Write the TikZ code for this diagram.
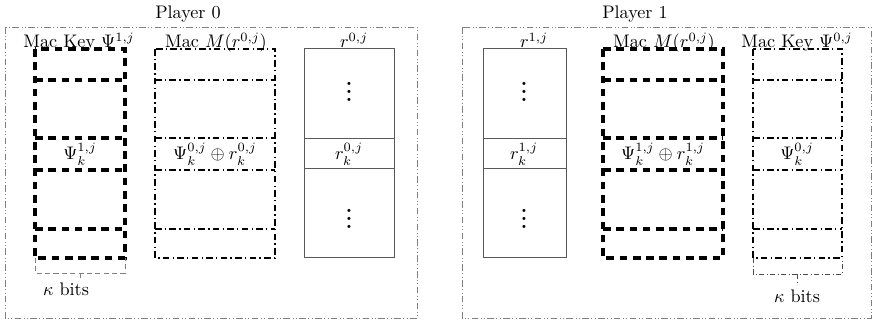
\documentclass[tikz,border=0pt]{standalone}
\newcommand{\myvdots}{\vbox{\baselineskip=4pt\lineskiplimit=0pt\lineskip=0pt\hbox{\bfseries .}\hbox{\bfseries .}\hbox{\bfseries .}}}
\begin{document}
\begin{tikzpicture}[x=0.55pt,y=-0.55pt,
  outer/.style={draw=gray, line width=0.45pt, dash pattern=on 3.6pt off 1.4pt on 0.45pt off 1.4pt on 0.45pt off 1.4pt},
  thickd/.style={draw=black, line width=1.7pt, dash pattern=on 4.2pt off 3.1pt},
  dd/.style={draw=black, line width=0.75pt, dash pattern=on 3.6pt off 1.8pt on 0.75pt off 1.8pt},
  plainbox/.style={draw=black!65, line width=0.55pt},
  brk/.style={draw=gray, line width=0.45pt, dash pattern=on 2.8pt off 1.8pt},
  brk2/.style={draw=black!70, line width=0.45pt, dash pattern=on 2.8pt off 1.4pt on 0.45pt off 1.4pt},
  ttl/.style={anchor=base, inner sep=0pt},
  lbl/.style={inner sep=0pt},
  dots/.style={inner sep=0pt, scale=1.1}]
\useasboundingbox (0,0) rectangle (872,320);
% outer panels
\draw[outer] (5,27) rectangle (417,318);
\draw[outer] (462,27) rectangle (871,318);
\node[ttl] (p0) at (188,19) {Player 0};
\node[ttl] (p1) at (635,19) {Player 1};
% Stack A
\draw[thickd] (35,49) rectangle (125,258);
\foreach \y in {80,138,170,229} \draw[thickd] (35,\y) -- (125,\y);
% Stack B
\draw[dd] (155,49) rectangle (275,258);
\foreach \y in {80,138,170,229} \draw[dd] (155,\y) -- (275,\y);
% Stack C
\draw[plainbox] (304,49) rectangle (394,258);
\foreach \y in {139,169} \draw[plainbox] (304,\y) -- (394,\y);
% Stack D
\draw[plainbox] (483,49) rectangle (566,258);
\foreach \y in {139,169} \draw[plainbox] (483,\y) -- (566,\y);
% Stack E
\draw[thickd] (603,49) rectangle (723,258);
\foreach \y in {80,138,170,229} \draw[thickd] (603,\y) -- (723,\y);
% Stack F
\draw[dd] (753,49) rectangle (842,258);
\foreach \y in {80,138,170,229} \draw[dd] (753,\y) -- (842,\y);
% titles
\node[ttl] (tA) at (79,48) {Mac Key $\Psi^{1,j}$};
\node[ttl] (tB) at (216,48) {Mac $M(r^{0,j})$};
\node[ttl] (tC) at (354,48) {$r^{0,j}$};
\node[ttl] (tD) at (534,48) {$r^{1,j}$};
\node[ttl] (tE) at (664,48) {Mac $M(r^{0,j})$};
\node[ttl] (tF) at (797,48) {Mac Key $\Psi^{0,j}$};
% inner labels
\node[lbl] (lA) at (80,154) {$\Psi_k^{1,j}$};
\node[lbl] (lB) at (215,154) {$\Psi_k^{0,j}\oplus r_k^{0,j}$};
\node[lbl] (lC) at (349,154) {$r_k^{0,j}$};
\node[lbl] (lD) at (524,154) {$r_k^{1,j}$};
\node[lbl] (lE) at (663,154) {$\Psi_k^{1,j}\oplus r_k^{1,j}$};
\node[lbl] (lF) at (797,154) {$\Psi_k^{0,j}$};
% vdots
\node[dots] (dC1) at (349,92) {\myvdots};
\node[dots] (dC2) at (349,219) {\myvdots};
\node[dots] (dD1) at (524,92) {\myvdots};
\node[dots] (dD2) at (524,219) {\myvdots};
% brackets
\coordinate (bA) at (80,273);
\node[anchor=base, inner sep=0pt] (kA) at (66,296) {$\kappa$ bits};
\draw[brk] (35,258) -- (35,273) -- (125,273) -- (125,258);
\draw[brk] (bA) -- (80,280);
\coordinate (bF) at (797,274);
\node[anchor=base, inner sep=0pt] (kF) at (797,303) {$\kappa$ bits};
\draw[brk2] (753,258) -- (753,274) -- (842,274) -- (842,258);
\draw[brk2] (bF) -- (797,285);
\end{tikzpicture}
\end{document}
